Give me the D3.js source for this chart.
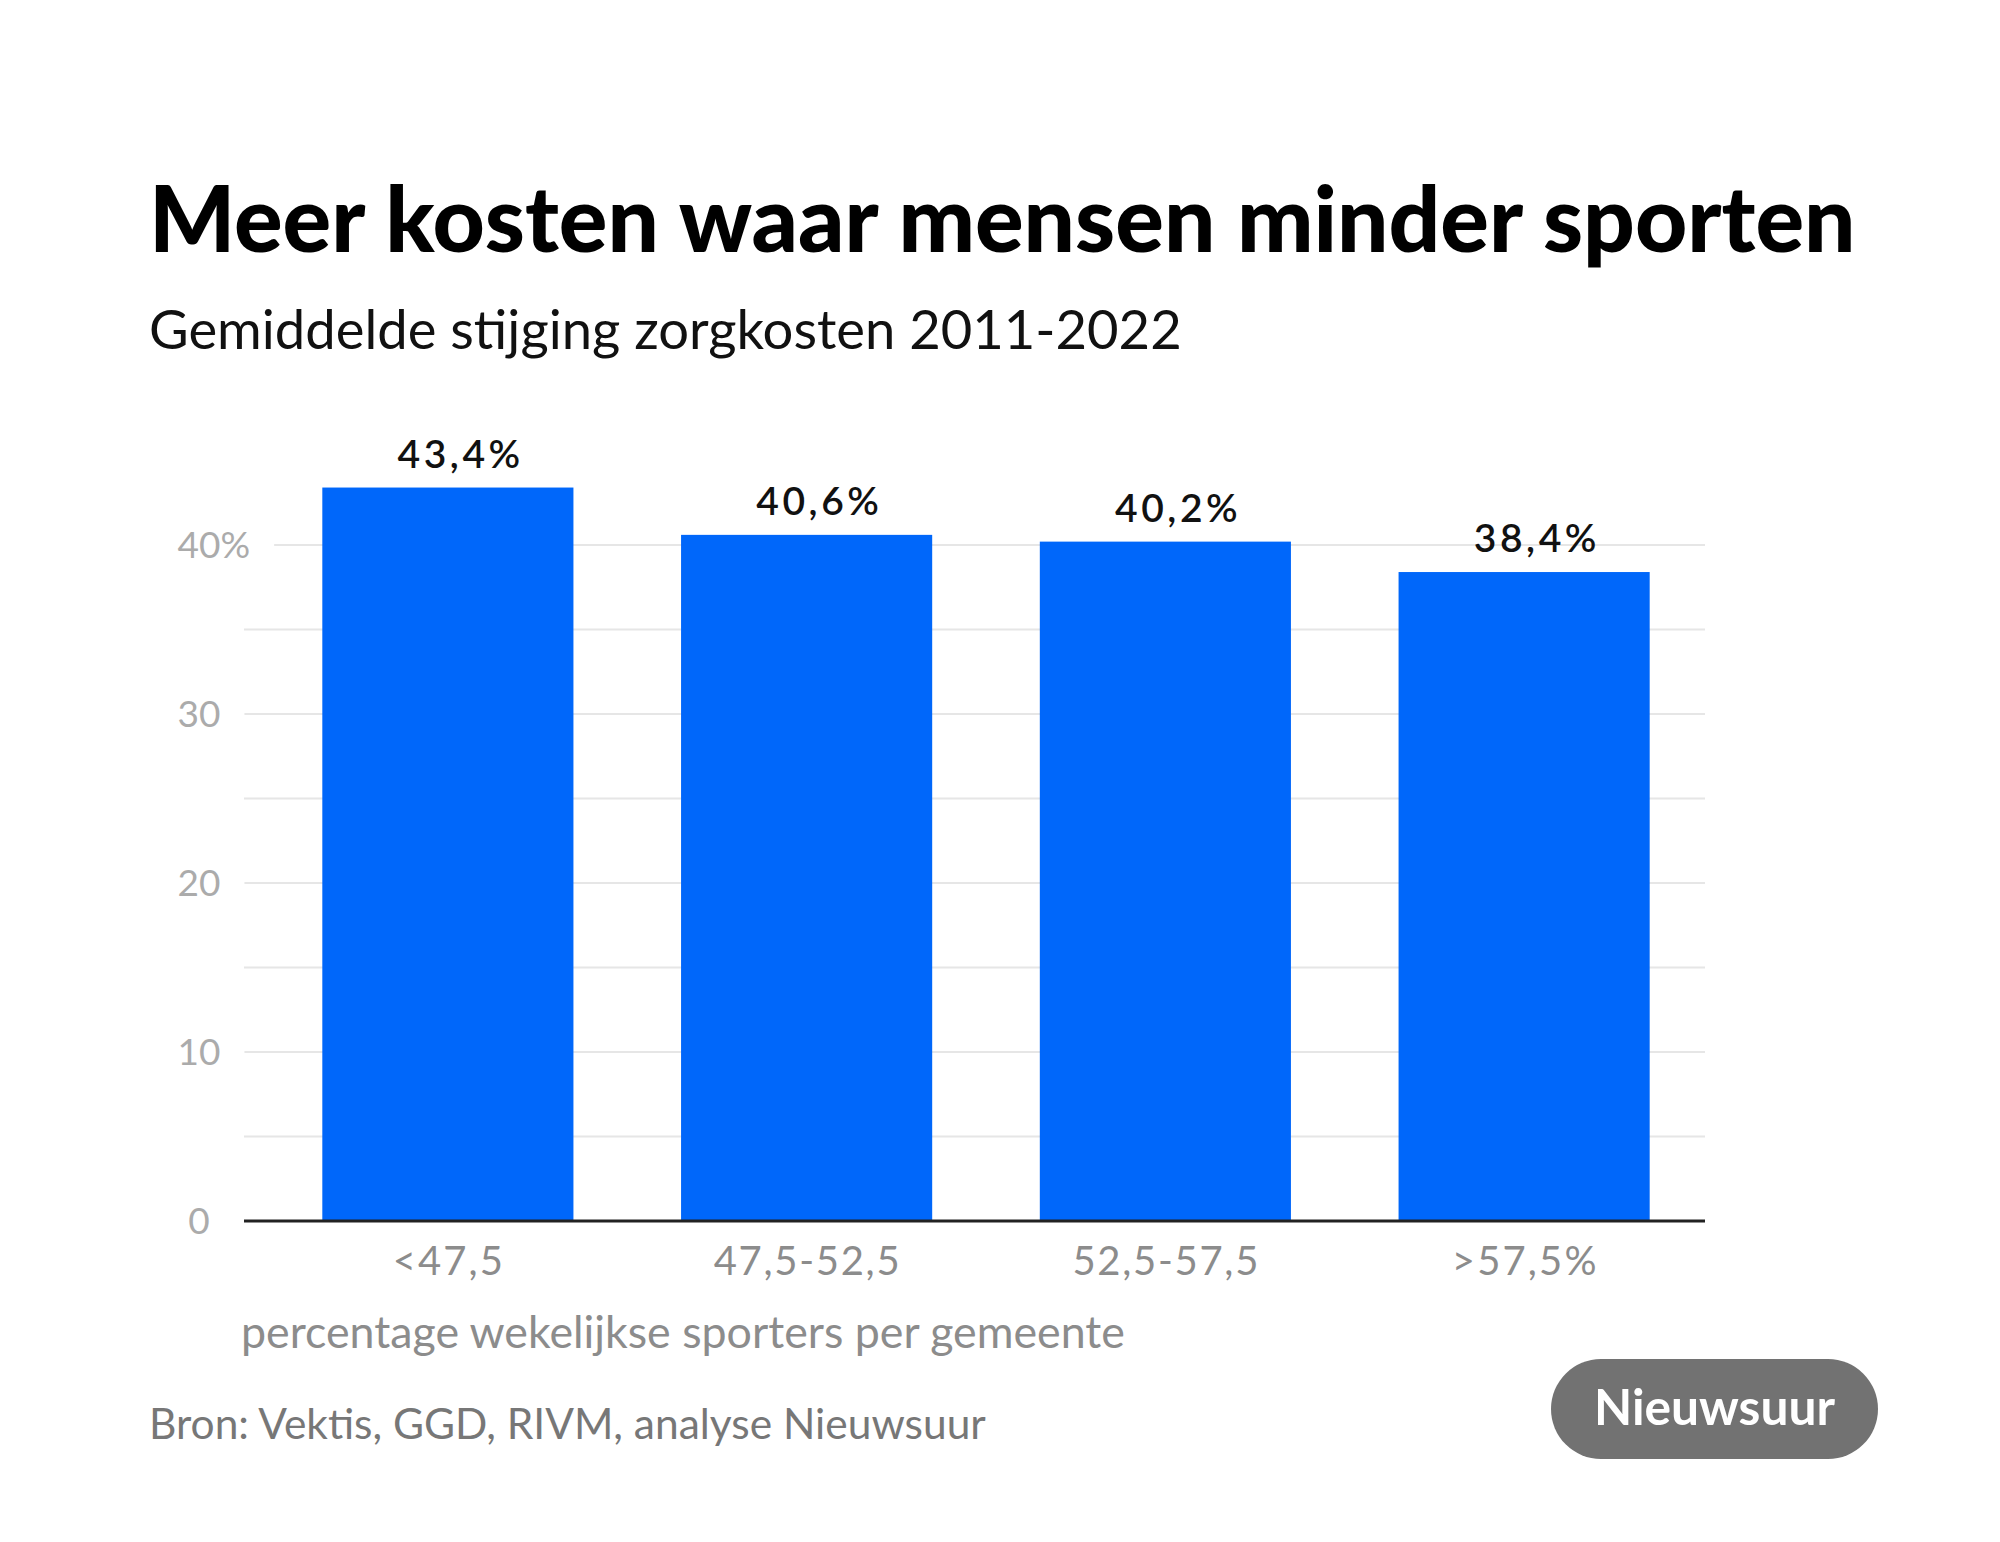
<!DOCTYPE html>
<html>
<head>
<meta charset="utf-8">
<script src="https://cdn.jsdelivr.net/npm/d3@7"></script>
<style>
  body { margin: 0; background: #fff; }
  svg { display: block; }
  text { font-family: Lato, "Open Sans", sans-serif; }
</style>
</head>
<body>
<svg id="chart" width="2000" height="1542"></svg>
<script>
// data
const categories = ['<47,5', '47,5-52,5', '52,5-57,5', '>57,5%'];
const values = [43.4, 40.6, 40.2, 38.4];
const valueLabels = ['43,4%', '40,6%', '40,2%', '38,4%'];
const gridTicks = [0, 5, 10, 15, 20, 25, 30, 35, 40];
const labelTicks = [0, 10, 20, 30, 40];

const titleText = 'Meer kosten waar mensen minder sporten';
const subtitleText = 'Gemiddelde stijging zorgkosten 2011-2022';
const axisTitle = 'percentage wekelijkse sporters per gemeente';
const sourceText = 'Bron: Vektis, GGD, RIVM, analyse Nieuwsuur';
const brandText = 'Nieuwsuur';

const svg = d3.select('#chart');
const gridLeft = 244, gridRight = 1705;
const baseY = 1221;

const x = d3.scaleBand()
  .domain(categories)
  .range([268.5, 1703.5])
  .paddingInner(0.3)
  .paddingOuter(0.15);

const y = d3.scaleLinear()
  .domain([0, 40])
  .range([baseY, 545]);

// shrink/grow a text so it spans the wanted width
function fitText(sel, target) {
  const node = sel.node();
  const size = parseFloat(sel.attr('font-size'));
  const len = node.getComputedTextLength();
  sel.attr('font-size', size * target / len);
}

// widen letters spacing a bit, the original font is wider than Lato
function widen(sel, factor) {
  sel.each(function () {
    const len = this.getComputedTextLength();
    d3.select(this)
      .attr('textLength', len * factor)
      .attr('lengthAdjust', 'spacing');
  });
}

svg.append('rect').attr('width', 2000).attr('height', 1542).attr('fill', '#fff');

// title + subtitle
const title = svg.append('text')
  .attr('x', 149).attr('y', 252)
  .attr('font-size', 85).attr('font-weight', 900)
  .attr('fill', '#000')
  .text(titleText);
fitText(title, 1707);

const subtitle = svg.append('text')
  .attr('x', 149).attr('y', 349)
  .attr('font-size', 54)
  .attr('fill', '#111')
  .text(subtitleText);
fitText(subtitle, 1033);

// y labels
const yLabels = svg.append('g');
const labelEnds = {};
labelTicks.forEach(t => {
  const txt = yLabels.append('text')
    .attr('y', y(t))
    .attr('dy', '0.36em')
    .attr('font-size', 37)
    .attr('fill', '#ababab');
  const num = txt.append('tspan').text(t);
  const w = num.node().getComputedTextLength();
  txt.attr('x', 199 - w / 2);
  if (t === 40) txt.append('tspan').text('%');
  labelEnds[t] = txt.node().getBBox().x + txt.node().getBBox().width;
});

// gridlines
svg.append('g')
  .selectAll('line')
  .data(gridTicks.filter(d => d > 0))
  .join('line')
  .attr('x1', d => labelEnds[d] ? labelEnds[d] + 24 : gridLeft)
  .attr('x2', gridRight)
  .attr('y1', d => y(d))
  .attr('y2', d => y(d))
  .attr('stroke', '#e6e6e6')
  .attr('stroke-width', 2);

// bars
svg.append('g')
  .selectAll('rect')
  .data(values)
  .join('rect')
  .attr('x', (d, i) => x(categories[i]))
  .attr('width', x.bandwidth())
  .attr('y', d => y(d))
  .attr('height', d => baseY - y(d))
  .attr('fill', '#0067fa');

// baseline
svg.append('line')
  .attr('x1', gridLeft).attr('x2', gridRight)
  .attr('y1', baseY).attr('y2', baseY)
  .attr('stroke', '#222').attr('stroke-width', 3);

// value labels
const vl = svg.append('g')
  .selectAll('text')
  .data(values)
  .join('text')
  .attr('x', (d, i) => x(categories[i]) + x.bandwidth() / 2 + 11)
  .attr('y', d => y(d) - 20)
  .attr('text-anchor', 'middle')
  .attr('font-size', 39)
  .attr('font-weight', 600)
  .attr('fill', '#111')
  .text((d, i) => valueLabels[i]);
widen(vl, 1.13);

// x axis labels
const xAxis = d3.axisBottom(x).tickSize(0).tickPadding(0);
const xg = svg.append('g')
  .attr('transform', `translate(0, ${baseY})`)
  .call(xAxis);
xg.select('.domain').remove();
const xl = xg.selectAll('text')
  .attr('y', 54)
  .attr('dy', 0)
  .attr('font-size', 40)
  .attr('font-family', 'Lato, "Open Sans", sans-serif')
  .attr('fill', '#8c8c8c');
widen(xl, 1.08);

// axis title
const at = svg.append('text')
  .attr('x', 241).attr('y', 1348)
  .attr('font-size', 40)
  .attr('fill', '#8c8c8c')
  .text(axisTitle);
fitText(at, 884);

// source
const src = svg.append('text')
  .attr('x', 149).attr('y', 1439)
  .attr('font-size', 40)
  .attr('fill', '#777')
  .text(sourceText);
fitText(src, 837);

// brand pill
svg.append('rect')
  .attr('x', 1551).attr('y', 1359)
  .attr('width', 327).attr('height', 100)
  .attr('rx', 50)
  .attr('fill', '#727272');
const brand = svg.append('text')
  .attr('x', 1714.5).attr('y', 1425)
  .attr('text-anchor', 'middle')
  .attr('font-size', 46).attr('font-weight', 700)
  .attr('fill', '#fff')
  .text(brandText);
fitText(brand, 241);
</script>
</body>
</html>
